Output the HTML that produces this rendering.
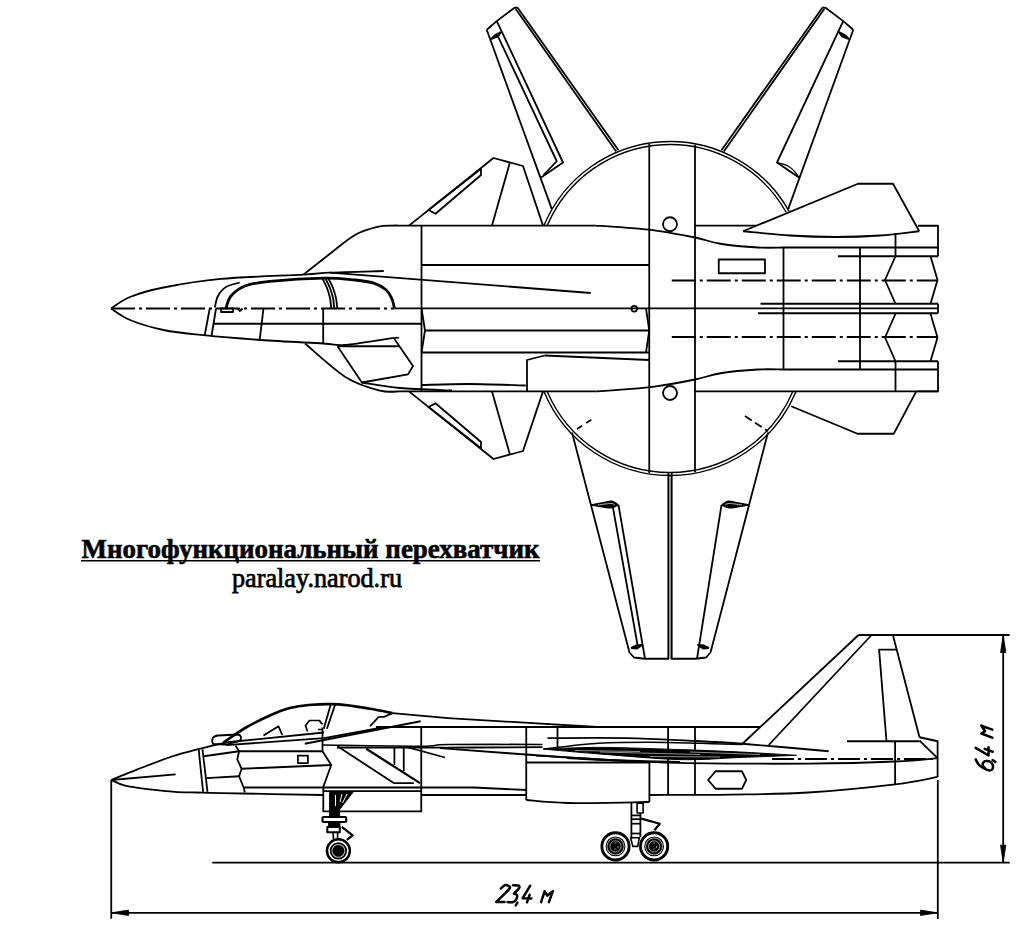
<!DOCTYPE html>
<html><head><meta charset="utf-8"><style>
html,body{margin:0;padding:0;background:#fff;width:1024px;height:926px;overflow:hidden}
svg{position:absolute;left:0;top:0}
.t1{position:absolute;left:0;top:0;font-family:"Liberation Serif",serif;white-space:nowrap;color:#000}
</style></head><body>
<svg width="1024" height="926" viewBox="0 0 1024 926">
<g fill="none" stroke="#000" stroke-width="1.8" stroke-linejoin="round" stroke-linecap="butt">
<path d="M486.75,29.7 L496.7,21.1 L514.5,7.8 L517.5,7.4"/>
<path d="M517.5,7.4 L618.5,150.3"/>
<path d="M515.6,8.8 L616.2,151.5"/>
<path d="M486.75,29.7 L551.75,208.9"/>
<path d="M498.2,36.8 L556.75,161.25 L543.5,175"/>
<path d="M496.7,21.1 L502,32.1 L563,162.5 L541.1,177.5"/>
<path d="M491,39.2 L495,35 L501,32.1 L498,36.5 L491,39.2" fill="#000"/>
<path d="M853.25,29.7 L843.3,21.1 L825.5,7.8 L822.5,7.4"/>
<path d="M822.5,7.4 L721.5,150.3"/>
<path d="M824.4,8.8 L723.8,151.5"/>
<path d="M853.25,29.7 L788.25,208.9"/>
<path d="M777,162.5 C778.83,163.08 785,164.42 788,166 C791,167.58 793.18,170.08 795,172 C796.82,173.92 798.25,176.58 798.9,177.5" stroke-width="1.3"/>
<path d="M843.3,21.1 L838,32.1 L777,162.5 L798.9,177.5"/>
<path d="M849,39.2 L845,35 L839,32.1 L842,36.5 L849,39.2" fill="#000"/>
<path d="M543.96,225.6 A136.5,136.5 0 0 1 789.76,212.5" stroke-width="1.4"/>
<path d="M796.04,391.4 A136.5,136.5 0 0 1 543.96,391.4" stroke-width="1.4"/>
<path d="M547.21,225.6 A133.5,133.5 0 0 1 786.33,212.5" stroke-width="1.4"/>
<path d="M792.79,391.4 A133.5,133.5 0 0 1 547.21,391.4" stroke-width="1.4"/>
<path d="M409,225.6 L493.5,158 L523,166 L543,225.6"/>
<path d="M509.75,163 L492,225.6"/>
<path d="M428.5,210 L481,168.75 L481,175 L435.5,213.75 Z"/>
<path d="M409,391.4 L493.5,459 L523,451 L543,391.4"/>
<path d="M509.75,454 L492,391.4"/>
<path d="M428.5,407 L481,448.25 L481,442 L435.5,403.25 Z"/>
<path d="M743,231.25 L858,183.75 L893,183.75 L919.25,231.25"/>
<path d="M743,231.25 C750.83,231.96 774.58,234.54 790,235.5 C805.42,236.46 820.5,237 835.5,237 C850.5,237 866.04,236.46 880,235.5 C893.96,234.54 912.71,231.96 919.25,231.25"/>
<path d="M791.25,406.25 L857.5,433.75 L893.75,433.75 L916.25,391.4"/>
<path d="M111,308.5 C114.17,306.58 121.25,300.5 130,297 C138.75,293.5 148.33,290.52 163.5,287.5 C178.67,284.48 197.67,281.05 221,278.9 C244.33,276.75 285.33,275.65 303.5,274.6 C321.67,273.55 316.62,273.2 330,272.6 C343.38,272 374.79,271.27 383.75,271"/>
<path d="M111,308.5 C114.17,310.42 121.25,316.42 130,320 C138.75,323.58 151.25,327.47 163.5,330 C175.75,332.53 187.25,333.53 203.5,335.2 C219.75,336.87 241.08,338.62 261,340 C280.92,341.38 309,342.67 323,343.5 C337,344.33 333.42,345.9 345,345 C356.58,344.1 383.54,339.25 392.5,338.1 C401.46,336.95 397.71,338.1 398.75,338.1"/>
<path d="M303.75,274.4 C308.12,270.96 321.46,260.32 330,253.75 C338.54,247.18 347.08,239.47 355,235 C362.92,230.53 371.25,228.47 377.5,226.9 C383.75,225.33 388.75,225.82 392.5,225.6 C396.25,225.38 398.75,225.6 400,225.6"/>
<path d="M305,343.5 C311.88,349.17 333.75,369.65 346.25,377.5 C358.75,385.35 371.04,388.3 380,390.6 C388.96,392.9 396.67,391.18 400,391.3"/>
<path d="M400,225.6 L595.5,225.6"/>
<path d="M400,391.3 L595.5,391.3"/>
<path d="M595.5,225.6 C600.42,225.93 614.92,226.77 625,227.6 C635.08,228.43 644.33,228.95 656,230.6 C667.67,232.25 684.25,235.31 695,237.5 C705.75,239.69 710,242.08 720.5,243.75 C731,245.42 747.58,246.88 758,247.5 C768.42,248.12 778.83,247.5 783,247.5"/>
<path d="M595.5,391.4 C600.42,391.07 614.92,390.23 625,389.4 C635.08,388.57 644.33,388.05 656,386.4 C667.67,384.75 684.25,381.69 695,379.5 C705.75,377.31 710,374.92 720.5,373.25 C731,371.58 747.58,370.12 758,369.5 C768.42,368.88 778.83,369.5 783,369.5"/>
<path d="M783,247.5 L938,247.5"/>
<path d="M783,369.5 L938,369.5"/>
<path d="M695,225.6 L756,225.6"/>
<path d="M695,391.4 L938,391.4"/>
<path d="M330,272.6 L590.75,293"/>
<path d="M421.5,225.6 L421.5,391.3"/>
<path d="M649.25,144.1 L649.25,472.9"/>
<path d="M695,144.83 L695,472.17"/>
<path d="M668.3,473 L668.3,659"/>
<path d="M671.7,473 L671.7,659"/>
<path d="M670,474 L670,659" stroke-width="0.6"/>
<path d="M421.5,265 L649.25,265"/>
<path d="M394.5,308.3 L760,308.3"/>
<path d="M425,330.5 L649.25,330.5"/>
<path d="M421.5,352.5 L649.25,352.5"/>
<path d="M213.5,323.75 L421.5,323.75"/>
<path d="M421.5,308.3 L425,330.5 L421.5,352.5"/>
<path d="M646,308.3 L649.25,330.5 L646,352.5"/>
<path d="M544.5,355.5 L649.25,360"/>
<path d="M527,391.3 L527,360 L544.5,355.5"/>
<path d="M422,385 C430,384.83 452.71,383.92 470,384 C487.29,384.08 516.46,385.25 525.75,385.5"/>
<circle cx="670" cy="224.25" r="7"/>
<circle cx="670" cy="393" r="7"/>
<circle cx="634.25" cy="308.75" r="2.8"/>
<path d="M337.5,346.25 L398.75,346.25"/>
<path d="M337.5,346.25 L361.9,382.5 L408,374.4 L413,366 L393.75,338.1"/>
<path d="M361.9,382.5 C368.25,383.42 384.98,386.67 400,388 C415.02,389.33 443.33,390.08 452,390.5"/>
<path d="M209.75,308.5 L204.75,335"/>
<path d="M216,308.5 L211.5,336"/>
<path d="M263.5,308.5 L259.75,339"/>
<path d="M323.2,308.5 L323.2,343.5"/>
<path d="M214.75,307.5 C215.29,305.58 216.12,299.42 218,296 C219.88,292.58 222.38,289.25 226,287 C229.62,284.75 237.46,283.25 239.75,282.5"/>
<path d="M226,308 C226.83,306 227.83,299.67 231,296 C234.17,292.33 238.5,288.45 245,286 C251.5,283.55 256.88,282.62 270,281.3 C283.12,279.98 309.58,278.32 323.75,278.1 C337.92,277.88 346.67,279.17 355,280 C363.33,280.83 368.54,281.43 373.75,283.1 C378.96,284.77 383.23,287.39 386.25,290 C389.27,292.61 390.54,295.73 391.9,298.75 C393.26,301.77 393.98,306.54 394.4,308.1" stroke-width="2.8"/>
<path d="M322.5,278.5 C323.25,280.08 325.75,284.75 327,288 C328.25,291.25 329.29,294.65 330,298 C330.71,301.35 331.04,306.42 331.25,308.1"/>
<path d="M325.5,278.5 C326.25,280.08 328.75,284.75 330,288 C331.25,291.25 332.29,294.65 333,298 C333.71,301.35 334.04,306.42 334.25,308.1"/>
<path d="M328.5,278.5 C329.25,280.08 331.75,284.75 333,288 C334.25,291.25 335.29,294.65 336,298 C336.71,301.35 337.04,306.42 337.25,308.1"/>
<path d="M221,308.3 L233,308.3 L233,312 L221,312 Z"/>
<path d="M237.5,308.5 L239.75,311 L242.5,308.5"/>
<path d="M111,308.5 L394.5,308.5" stroke-dasharray="24 4 3 4"/>
<path d="M718.75,259.5 L765,259.5 L765,273.25 L718.75,273.25 Z"/>
<path d="M671.75,280.5 L938,280.5" stroke-dasharray="24 4 3 4"/>
<path d="M671.75,337 L938,337" stroke-dasharray="24 4 3 4"/>
<path d="M783.5,247.5 L783.5,368.75"/>
<path d="M860,247.5 L860,368.75"/>
<path d="M838,256.25 L938,256.25"/>
<path d="M838,361.25 L938,361.25"/>
<path d="M895.5,233 L895.5,256.25"/>
<path d="M895.5,361.25 L895.5,391.4"/>
<path d="M918,225.75 L938,225.75 L938,256.25"/>
<path d="M918,391.4 L938,391.4 L938,361.25"/>
<path d="M760.5,303.75 L938,303.75"/>
<path d="M758,313.25 L938,313.25"/>
<path d="M760,308.3 L938,308.3"/>
<path d="M938,303.75 L938,313.25"/>
<path d="M895.5,256.25 L885,280 L895.5,303.75"/>
<path d="M930.5,256.25 L937.5,280 L930.5,303.75"/>
<path d="M895.5,313.75 L885,337.5 L895.5,361.25"/>
<path d="M930.5,313.75 L937.5,337.5 L930.5,361.25"/>
<path d="M577,429 L594,418" stroke-dasharray="6 5"/>
<path d="M745,416 L768,431.25" stroke-dasharray="8 4"/>
<path d="M572,432.5 L629.5,652.5 L634,657.5 L644.5,658.75 L669,658.75"/>
<path d="M612.5,505 L638,647.5"/>
<path d="M618.5,505 L645,658.75"/>
<path d="M591.25,505 C593.04,504.67 598.56,503.62 602,503 C605.44,502.38 609.22,500.97 611.9,501.3 C614.58,501.63 617.07,504.38 618.1,505 L618.1,505 C616.96,505.47 613.93,507.5 611.25,507.8 C608.57,508.1 605.33,507.27 602,506.8 C598.67,506.33 593.04,505.3 591.25,505 Z" fill="#000" stroke-width="1.4"/>
<path d="M598,505 C599.33,504.82 603.67,504.15 606,503.9 C608.33,503.65 610.5,503.32 612,503.5 C613.5,503.68 614.5,504.75 615,505" stroke-width="0.7" stroke="#fff"/>
<path d="M631,648 L636,645.5 L642,645 L637,648.5 L631,648" fill="#000"/>
<path d="M768,432.5 L710.5,652.5 L706,657.5 L695.5,658.75 L671,658.75"/>
<path d="M721.5,505 L697,658.75"/>
<path d="M748.75,505 C746.96,504.67 741.44,503.62 738,503 C734.56,502.38 730.78,500.97 728.1,501.3 C725.42,501.63 722.93,504.38 721.9,505 L721.9,505 C723.04,505.47 726.07,507.5 728.75,507.8 C731.43,508.1 734.67,507.27 738,506.8 C741.33,506.33 746.96,505.3 748.75,505 Z" fill="#000" stroke-width="1.4"/>
<path d="M742,505 C740.67,504.82 736.33,504.15 734,503.9 C731.67,503.65 729.5,503.32 728,503.5 C726.5,503.68 725.5,504.75 725,505" stroke-width="0.7" stroke="#fff"/>
<path d="M709,648 L704,645.5 L698,645 L703,648.5 L709,648" fill="#000"/>
<path d="M111.25,780 C115.62,778.23 127.29,773.36 137.5,769.4 C147.71,765.44 162.5,759.58 172.5,756.25 C182.5,752.92 190.83,751.17 197.5,749.4 C204.17,747.62 207.75,746.75 212.5,745.6 C217.25,744.45 223.75,743.02 226,742.5"/>
<path d="M111.25,780 C113.54,780.93 118.54,784.03 125,785.6 C131.46,787.17 141.67,788.35 150,789.4 C158.33,790.45 167.08,791.38 175,791.9 C182.92,792.42 189.83,792.3 197.5,792.5 C205.17,792.7 200.03,792.68 221,793.1 C241.97,793.52 306.25,794.68 323.3,795"/>
<path d="M111.25,780 L175.6,774.4"/>
<path d="M198.75,750 L203.1,791.9"/>
<path d="M202.5,749.4 L207.5,791.9"/>
<path d="M203.75,756.25 L239.1,751.25"/>
<path d="M206.25,778.1 L239.1,776.25"/>
<path d="M213,744 C211,739 213,736 218,735.5 L238,734.5 C241,735 242,738 240,741 L226,744.5 Z"/>
<path d="M223.5,742.5 C227.25,740 238.08,732.08 246,727.5 C253.92,722.92 263.71,718.23 271,715 C278.29,711.77 283.5,709.77 289.75,708.1 C296,706.43 300.33,705.62 308.5,705 C316.67,704.38 328.5,703.77 338.75,704.4 C349,705.02 361.04,707.3 370,708.75 C378.96,710.2 388.75,712.38 392.5,713.1" stroke-width="2.6"/>
<path d="M392.5,713.1 L448,718.1"/>
<path d="M448,718.1 L597,727"/>
<path d="M224.75,742.5 L324,732.5"/>
<path d="M226,745.2 L324,738.1"/>
<path d="M324,738.1 L382.5,727.5"/>
<path d="M370,726.25 L378.75,716.9 L384,716.9 L392.5,713.1"/>
<path d="M323.75,728.75 L330.6,705"/>
<path d="M326.9,728.75 L335,705"/>
<path d="M307.5,731.5 L306,727 L305.5,725.5 L309.5,720.5 L319.5,720.5 L321.5,723.5 L323,724 M322,729.5 L318,729.5" stroke-width="1.7"/>
<path d="M263.5,735.5 L278.5,726.25 L282.25,735"/>
<path d="M304.75,743.75 L420.6,721.25"/>
<path d="M376,727 L760,727"/>
<path d="M239.1,751.25 L322.5,751.25"/>
<path d="M235.4,745.6 L239.1,751.25 L237.25,759.4 L241.6,768.75 L239.1,776.25 L244.1,788.75 L244.75,792.5"/>
<path d="M241.6,768.75 L331.25,765"/>
<path d="M297.9,755.6 L307.9,755.6 L307.9,763.1 L297.9,763.1 Z"/>
<path d="M322.5,727.5 L322.5,751.25 L331.25,765 L323.3,786.9 L323.3,811.4 L421.25,811.4 L421.25,727"/>
<path d="M244.1,787.5 L473.75,787.5 L526.25,790"/>
<path d="M323.3,791.2 L421.25,791.2"/>
<path d="M421.25,795 L526.25,795"/>
<path d="M322.5,745 C338.96,745.2 400.33,746.28 421.25,746.2 C442.17,746.12 427.79,744.78 448,744.5 C468.21,744.22 526.75,744.5 542.5,744.5" stroke-width="1.6"/>
<path d="M337,747.5 C355.5,747.52 413.75,747.65 448,747.6 C482.25,747.55 526.75,747.27 542.5,747.2"/>
<path d="M337.5,746.25 L393.75,783.1 L413.75,783.1"/>
<path d="M366.25,748.75 L420,783.1" stroke-width="2.2"/>
<path d="M394.4,747.5 L394.4,765"/>
<path d="M403.75,747.5 L403.75,771.25"/>
<path d="M406.25,746.9 L445,757.5"/>
<path d="M526.25,727 L526.25,800"/>
<path d="M557.5,727 L557.5,747"/>
<path d="M547.5,738.1 C560.58,738.1 602.58,737.68 626,738.1 C649.42,738.52 668.58,739.66 688,740.6 C707.42,741.54 719.04,741.98 742.5,743.75 C765.96,745.52 814.38,750 828.75,751.25"/>
<path d="M440,748.1 C461.33,749.67 535.5,755.31 568,757.5 C600.5,759.69 615,760.32 635,761.25 C655,762.18 659.17,762.71 688,763.1 C716.83,763.49 773.48,763.87 808,763.6 C842.52,763.33 873.5,762.42 895.1,761.5 C916.7,760.58 930.52,758.67 937.6,758.1"/>
<path d="M526.25,762.5 L649.4,762.5"/>
<path d="M526.25,800 C533.21,800.5 547.48,802.67 568,803 C588.52,803.33 635.83,802.17 649.4,802"/>
<path d="M649.4,762.5 L649.4,802"/>
<path d="M649.4,795 C662.83,794.93 703.57,795.02 730,794.6 C756.43,794.18 780.48,794.2 808,792.5 C835.52,790.8 873.5,787 895.1,784.4 C916.7,781.8 930.52,778.15 937.6,776.9"/>
<path d="M668.1,727 L668.1,794.4"/>
<path d="M695,727 L695,795"/>
<path d="M708.1,780 L715.6,771.25 L741.9,771.25 L746.25,780 L741.9,788.75 L715.6,788.75 Z"/>
<path d="M543.4,749.1 C547.83,748.58 560.82,746.98 570,746 C579.18,745.02 585.17,743.82 598.5,743.2 C611.83,742.58 633.08,742.28 650,742.3 C666.92,742.32 684.58,742.93 700,743.3 C715.42,743.67 735.42,744.3 742.5,744.5" stroke-width="1.5"/>
<path d="M543.4,749.1 C552.83,748.82 577.23,747.32 600,747.4 C622.77,747.48 656.67,748.83 680,749.6 C703.33,750.37 720.58,751.05 740,752 C759.42,752.95 787.08,754.75 796.5,755.3 L796.5,755.3 C787.08,755.67 759.42,756.78 740,757.5 C720.58,758.22 703.33,760.18 680,759.6 C656.67,759.02 622.77,755.75 600,754 C577.23,752.25 552.83,749.92 543.4,749.1 Z" fill="#000" stroke-width="1"/>
<path d="M575,750.5 L640,751.5 M600,752 L700,754.5 M690,752 L760,754.5 M650,756.5 L720,757" stroke="#fff" stroke-width="0.7" opacity="0.8"/>
<path d="M536,755.7 C543.33,756.08 566.67,757.28 580,758 C593.33,758.72 599.33,759.37 616,760 C632.67,760.63 669.33,761.5 680,761.8" stroke-width="1.4"/>
<path d="M567,758.4 C575.17,758.8 597.17,760.15 616,760.8 C634.83,761.45 669.33,762.05 680,762.3" stroke-width="1.2"/>
<path d="M742.5,743.75 L858.5,635"/>
<path d="M768.75,745 L871.6,635"/>
<path d="M892.9,635 L919.5,737.25"/>
<path d="M858.5,635 L1009.7,635"/>
<path d="M886.5,741.25 L879.1,649.6 L896.6,649.6"/>
<path d="M847,741.25 L919.5,741.25"/>
<path d="M919.5,737.25 L937.6,741.25 L937.6,776.9"/>
<path d="M919.5,740.6 L937.6,758.1"/>
<path d="M895.1,741.25 L895.1,784.4"/>
<path d="M772,759 L937.6,759" stroke-dasharray="22 4 3 4"/>
<circle cx="338.4" cy="850.8" r="11.45" stroke-width="2.5"/>
<circle cx="338.4" cy="850.8" r="7.75" stroke-width="1.7"/>
<circle cx="338.4" cy="850.8" r="5.9" stroke-width="0.5" fill="#000"/>
<path d="M329.5,791.6 L353.6,791.6 L339.7,809.5 L339.7,817 L329.5,817 Z" fill="#000" stroke-width="0.8"/>
<path d="M335.5,795 L335.5,806 M342,794 L340,802 M347,794 L342.5,803" stroke="#fff" stroke-width="1"/>
<path d="M327.3,827 L339.8,827 L339.8,832.2 L327.3,832.2 Z" stroke-width="2"/>
<rect x="322.5" y="817" width="23.7" height="5" rx="1" fill="none" stroke="#000" stroke-width="2.2"/>
<path d="M328.5,822 L340,822 L340,827 L328.5,827 Z" fill="#000" stroke-width="0.8"/>
<path d="M333,832.2 L333.5,839 M337.6,832.2 L337.6,839" stroke-width="1.6"/>
<path d="M341.8,826.8 L352.7,835.4 L346.8,839.8" stroke-width="2.2"/>
<circle cx="615.5" cy="846.4" r="13.6" stroke-width="2.9"/>
<circle cx="615.5" cy="846.4" r="9.4" stroke-width="1.1"/>
<circle cx="615.5" cy="846.4" r="8" stroke-width="0.5" fill="#000"/>
<circle cx="615.5" cy="846.4" r="5.6" fill="none" stroke="#fff" stroke-width="0.6"/>
<path d="M614.5,843 l2,0 M614.5,849 l2,0 M618,846 l0,2" stroke="#fff" stroke-width="0.6"/>
<circle cx="654.1" cy="846.4" r="13.6" stroke-width="2.9"/>
<circle cx="654.1" cy="846.4" r="9.4" stroke-width="1.1"/>
<circle cx="654.1" cy="846.4" r="8" stroke-width="0.5" fill="#000"/>
<circle cx="654.1" cy="846.4" r="5.6" fill="none" stroke="#fff" stroke-width="0.6"/>
<path d="M653.1,843 l2,0 M653.1,849 l2,0 M656.6,846 l0,2" stroke="#fff" stroke-width="0.6"/>
<path d="M631.4,802.5 L631.4,837.3 M640.4,813.5 L640.4,837.3" stroke-width="1.8"/>
<path d="M637.1,803.2 L643.1,803.2 L643.1,813 L637.1,813 Z" stroke-width="1.6"/>
<path d="M631.4,815.4 L640.4,815.4" stroke-width="1.7"/>
<path d="M631.4,819.2 L640.4,819.2" stroke-width="1.7"/>
<path d="M631.4,823.7 L640.4,823.7" stroke-width="1.7"/>
<path d="M631.4,833.5 L640.4,833.5" stroke-width="1.7"/>
<path d="M640.4,818.4 L659.8,823.8 L654.4,830.2" stroke-width="2.2"/>
<path d="M630.6,837.8 L639.3,837.8 L637.7,846.4 L632.8,846.4 Z" stroke-width="1.6"/>
<path d="M212.25,862.7 L1009.7,862.7"/>
<path d="M111.25,780 L111.25,918.8"/>
<path d="M937.8,780 L937.8,919"/>
<path d="M111.25,912.8 L937.8,912.8"/>
<path d="M1003.2,635 L1003.2,862.7"/>
<path d="M111.5,912.8 L128.5,910.1 L128.5,915.5 Z" fill="#000" stroke-width="0.8"/>
<path d="M937.5,912.8 L920.5,910.1 L920.5,915.5 Z" fill="#000" stroke-width="0.8"/>
<path d="M1003.2,635.5 L1000.5,652.5 L1005.9,652.5 Z" fill="#000" stroke-width="0.8"/>
<path d="M1003.2,862.2 L1000.5,845.2 L1005.9,845.2 Z" fill="#000" stroke-width="0.8"/>
<path d="M501,888.4 C501.65,887.85 503.67,885.52 504.9,885.1 C506.13,884.68 507.68,885.25 508.4,885.9 C509.12,886.55 511.22,886.33 509.2,889 C507.18,891.67 498.45,899.75 496.3,901.9 M496.3,901.9 L504.5,901.9 M513.1,885.3 L518.6,885.5 M518.6,885.5 C518.72,885.88 520.08,886.43 519.3,887.8 C518.52,889.17 514.8,892.72 513.9,893.7 M513.9,893.7 C514.42,893.95 516.62,894.23 517,895.2 C517.38,896.17 516.85,898.35 516.2,899.5 C515.55,900.65 514.53,901.67 513.1,902.1 C511.67,902.53 508.52,902.1 507.6,902.1 M517.4,902.5 L515.8,905.4 M530.2,885.7 L522.7,898.2 M522.7,898.2 L531.3,898.4 M529.6,894.8 L527,902.3 M541.1,902.1 L544.6,891.3 M544.6,891.3 L547.3,895.6 M547.3,895.6 L552.8,891.3 M552.8,891.3 L548.9,902.1 " stroke-width="2.5" stroke-linecap="round" stroke-linejoin="round"/>
<path d="M975.7,759.5 C976.25,760.42 977.62,763.5 979,765 C980.38,766.5 982.25,767.58 984,768.5 C985.75,769.42 988.08,770.42 989.5,770.5 C990.92,770.58 991.97,769.92 992.5,769 C993.03,768.08 993.03,766.17 992.7,765 C992.37,763.83 991.53,762.67 990.5,762 C989.47,761.33 987.7,760.92 986.5,761 C985.3,761.08 983.88,761.67 983.3,762.5 C982.72,763.33 982.63,764.95 983,766 C983.37,767.05 985.08,768.33 985.5,768.8 M992.7,760 L995.3,761.9 M975.7,747.9 L988.5,755.5 M988.5,755.5 L988.5,747.2 M984.7,748.9 L992.7,751.7 M992.3,737.7 L981.3,733.5 M981.3,733.5 L985.1,731.2 M985.1,731.2 L981.3,725.6 M981.3,725.6 L992.3,729.7 " stroke-width="2.5" stroke-linecap="round" stroke-linejoin="round"/>
</g>
<text x="81.5" y="558.4" font-family="Liberation Serif" font-weight="bold" font-size="27" textLength="458" lengthAdjust="spacingAndGlyphs" stroke="#000" stroke-width="0.6">Многофункциональный перехватчик</text>
<line x1="81" y1="560.8" x2="540" y2="560.8" stroke="#000" stroke-width="1.6"/>
<text x="232" y="586.8" font-family="Liberation Serif" font-size="28" textLength="170" lengthAdjust="spacingAndGlyphs" stroke="#000" stroke-width="0.75">paralay.narod.ru</text>
</svg>
</body></html>
